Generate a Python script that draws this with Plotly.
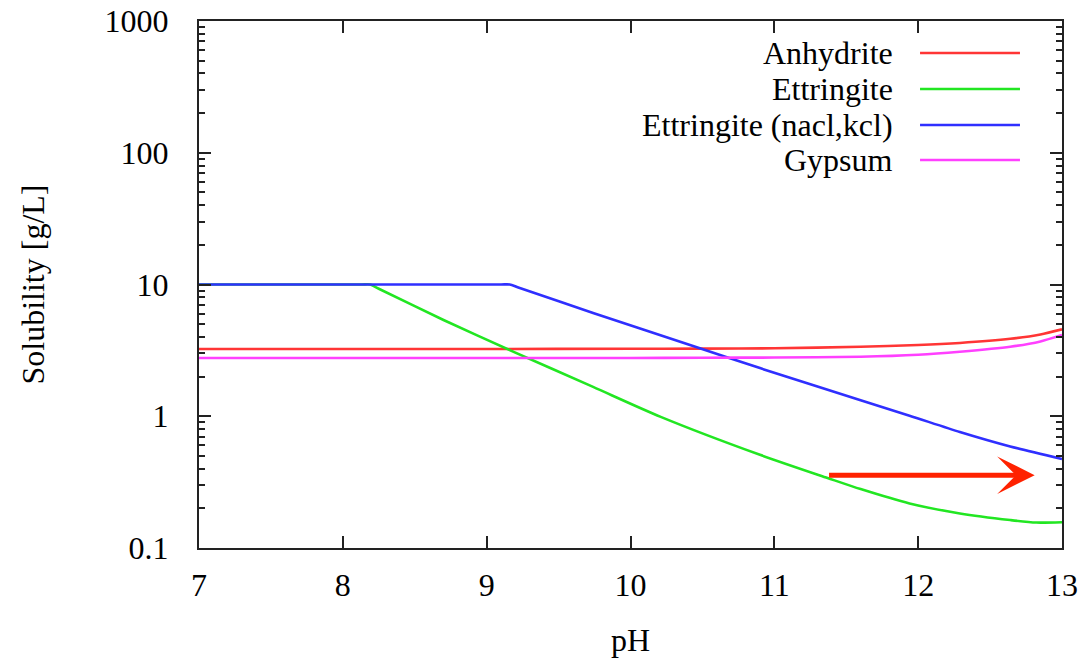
import numpy as np
import plotly.graph_objects as go

# ---------------- data ----------------
anhydrite_ph = [7.0, 8.0, 9.0, 10.0, 10.5, 11.0, 11.6, 12.0, 12.29, 12.64, 12.85, 13.0]
anhydrite_sol = [3.24, 3.24, 3.24, 3.25, 3.26, 3.28, 3.37, 3.47, 3.60, 3.87, 4.18, 4.57]

ettringite_ph = [7.0, 8.13, 8.19, 8.25, 8.70, 9.16, 9.74, 10.21, 10.90, 11.37, 11.60, 11.94, 12.29, 12.64, 12.82, 13.0]
ettringite_sol = [10.0, 10.0, 10.0, 9.29, 5.38, 3.18, 1.67, 0.99, 0.51, 0.34, 0.28, 0.218, 0.183, 0.163, 0.156, 0.157]

ettr_salt_ph = [7.0, 9.10, 9.16, 9.22, 9.74, 10.44, 10.90, 11.60, 11.94, 12.29, 12.64, 13.0]
ettr_salt_sol = [10.0, 10.0, 10.0, 9.5, 6.08, 3.40, 2.32, 1.32, 1.01, 0.76, 0.59, 0.474]

gypsum_ph = [7.0, 8.0, 9.0, 10.0, 10.5, 11.0, 11.6, 12.0, 12.29, 12.64, 12.85, 13.0]
gypsum_sol = [2.77, 2.77, 2.77, 2.77, 2.78, 2.79, 2.83, 2.93, 3.09, 3.37, 3.70, 4.14]

series_names = ["Anhydrite", "Ettringite", "Ettringite (nacl,kcl)", "Gypsum"]
series_colors = ["#ff3535", "#22e622", "#2f2fff", "#ff40ff"]

x_ticks = [7, 8, 9, 10, 11, 12, 13]
y_ticks = [0.1, 1, 10, 100, 1000]
y_tick_text = ["0.1", "1", "10", "100", "1000"]
y_minor = [m * 10.0 ** e for e in range(-1, 3) for m in range(2, 10)]

arrow_tail_ph = 11.37
arrow_tip_ph = 12.81
arrow_level = 0.357

FONT = "Times New Roman"
FS = 32

fig = go.Figure()
xs = [anhydrite_ph, ettringite_ph, ettr_salt_ph, gypsum_ph]
ys = [anhydrite_sol, ettringite_sol, ettr_salt_sol, gypsum_sol]
for name, c, x, y in zip(series_names, series_colors, xs, ys):
    fig.add_trace(go.Scatter(x=x, y=y, mode="lines", name=name,
                             line=dict(color=c, width=2.6, shape="spline", smoothing=0.7),
                             showlegend=False))

# gnuplot-style key: text right-aligned, sample line to the right
key_y = [0.9393, 0.871, 0.8027, 0.7362]
for name, c, ky in zip(series_names, series_colors, key_y):
    fig.add_annotation(xref="paper", yref="paper", x=0.8065, y=ky, text=name,
                       showarrow=False, xanchor="right", yanchor="middle",
                       font=dict(family=FONT, size=FS))
    fig.add_shape(type="line", xref="paper", yref="paper", x0=0.8355, x1=0.9513,
                  y0=ky, y1=ky, line=dict(color=c, width=2.6))

fig.add_annotation(x=arrow_tip_ph, y=np.log10(arrow_level), ax=arrow_tail_ph,
                   ay=np.log10(arrow_level), axref="x", ayref="y", xref="x", yref="y",
                   text="", showarrow=True, arrowhead=3, arrowsize=1.25,
                   arrowwidth=5, arrowcolor="#ff2200")

fig.update_layout(
    width=1088, height=658,
    margin=dict(l=199, r=26, t=21, b=110),
    paper_bgcolor="white", plot_bgcolor="white",
    font=dict(family=FONT, size=FS, color="black"),
)
fig.update_xaxes(range=[7, 13], tickvals=x_ticks, ticks="inside", ticklen=12,
                 tickwidth=1.5, tickcolor="#222", showline=True, linecolor="#222",
                 linewidth=2, mirror="ticks", showgrid=False, zeroline=False,
                 ticklabelstandoff=8, automargin=False,
                 title=dict(text="pH", font=dict(family=FONT, size=FS), standoff=26))
fig.update_yaxes(type="log", range=[-1, 3], tickvals=y_ticks, ticktext=y_tick_text,
                 ticks="inside", ticklen=12, tickwidth=1.5, tickcolor="#222",
                 showline=True, linecolor="#222", linewidth=2, mirror="ticks",
                 showgrid=False, zeroline=False, ticklabelstandoff=22, automargin=False,
                 minor=dict(tickvals=y_minor, ticks="inside", ticklen=6, tickwidth=1.5,
                            tickcolor="#222", showgrid=False),
                 title=dict(text="Solubility [g/L]", font=dict(family=FONT, size=FS), standoff=50))

fig.write_html("out.html")
